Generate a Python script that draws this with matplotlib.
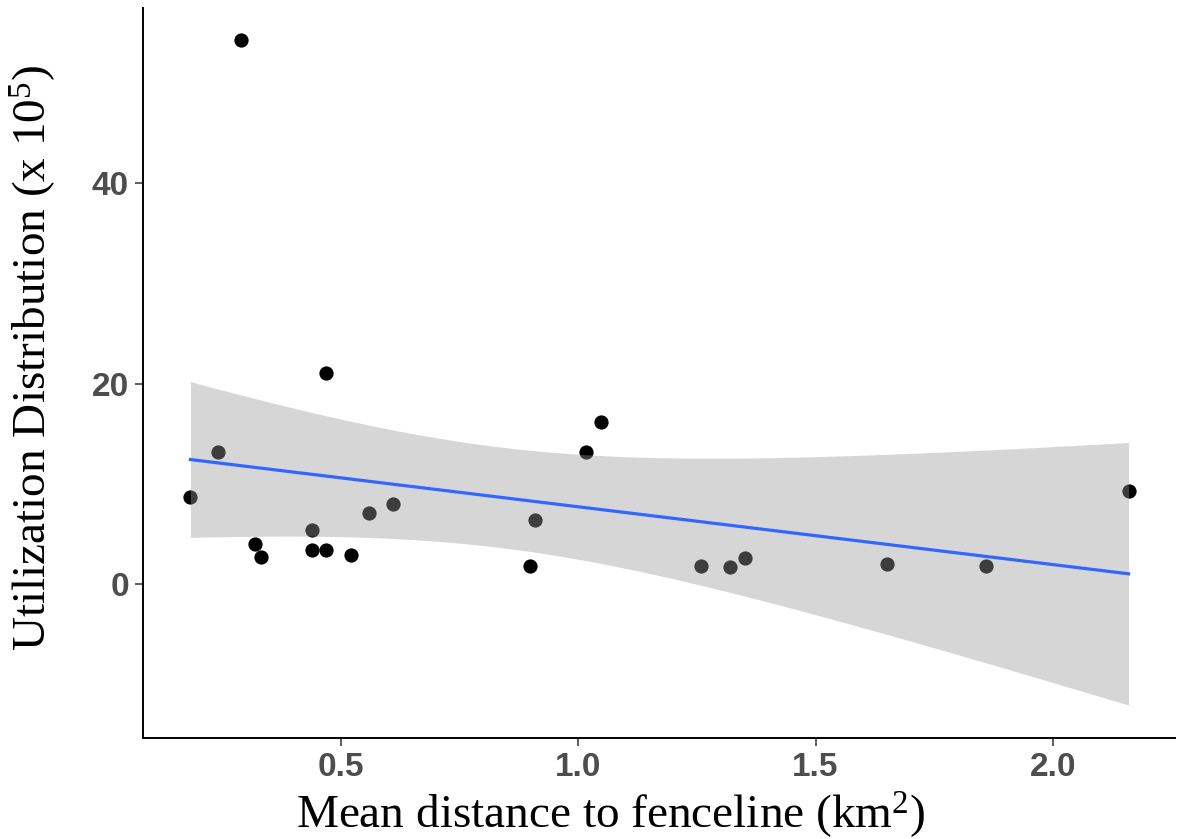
import numpy as np
import matplotlib
matplotlib.use("Agg")
import matplotlib.pyplot as plt

# values
dist_km = [0.182, 0.241, 0.288, 0.319, 0.330, 0.439, 0.439, 0.468, 0.467, 0.520, 0.558,
           0.610, 0.899, 0.909, 1.017, 1.047, 1.259, 1.319, 1.351, 1.650, 1.859, 2.160]
ud = [8.74, 13.16, 54.27, 4.01, 2.68, 5.41, 3.41, 3.41, 21.05, 2.92, 7.14,
      8.01, 1.85, 6.44, 13.16, 16.16, 1.85, 1.68, 2.58, 2.02, 1.85, 9.27]

x_ticks = [0.5, 1.0, 1.5, 2.0]
y_ticks = [0, 20, 40]

plt.rcParams['mathtext.fontset'] = 'custom'
plt.rcParams['mathtext.rm'] = 'Liberation Serif'
plt.rcParams['mathtext.it'] = 'Liberation Serif:italic'

# linear fit + 95% confidence band (like geom_smooth(method="lm"))
x = np.array(dist_km)
y = np.array(ud)
n = len(x)
slope, intercept = np.polyfit(x, y, 1)
resid = y - (intercept + slope * x)
s = np.sqrt(np.sum(resid ** 2) / (n - 2))
sxx = np.sum((x - x.mean()) ** 2)
t_crit = 2.086  # t(0.975, df=20)
xs = np.linspace(x.min(), x.max(), 80)
yhat = intercept + slope * xs
se = s * np.sqrt(1 / n + (xs - x.mean()) ** 2 / sxx)
lo = yhat - t_crit * se
hi = yhat + t_crit * se

W, H = 1178, 839
fig = plt.figure(figsize=(W / 100, H / 100), dpi=100)
ax = fig.add_axes([143 / W, 1 - 738 / H, (1175.5 - 143) / W, (738 - 8) / H])

ax.scatter(x, y, s=105, color='black', linewidths=0, zorder=2)
ax.fill_between(xs, lo, hi, color='#999999', alpha=0.4, linewidth=0, zorder=3)
ax.plot(xs, yhat, color='#3366FF', lw=2.3, zorder=4)

ax.set_xlim(0.082, 2.259)
ax.set_ylim(-15.35, 57.5)
ax.set_xticks(x_ticks)
ax.set_xticklabels([f'{v:.1f}' for v in x_ticks])
ax.set_yticks(y_ticks)
ax.set_yticklabels([str(v) for v in y_ticks])

for side in ['top', 'right']:
    ax.spines[side].set_visible(False)
for side in ['left', 'bottom']:
    ax.spines[side].set_linewidth(1.4)
    ax.spines[side].set_color('black')

ax.tick_params(length=6, width=1.1, color='#333333', labelsize=24,
               labelcolor='#4D4D4D', pad=4)
for lbl in ax.get_xticklabels() + ax.get_yticklabels():
    lbl.set_fontweight('bold')
    lbl.set_family('Liberation Sans')

fig.text(611 / W, 1 - 828 / H, 'Mean distance to fenceline (km$^2$)',
         ha='center', va='baseline', family='Liberation Serif', fontsize=34)
fig.text(33 / W, 1 - 358 / H, 'Utilization Distribution (x 10$^5$)',
         ha='center', va='center', rotation=90, family='Liberation Serif', fontsize=34)

fig.savefig('out.png', dpi=100)
